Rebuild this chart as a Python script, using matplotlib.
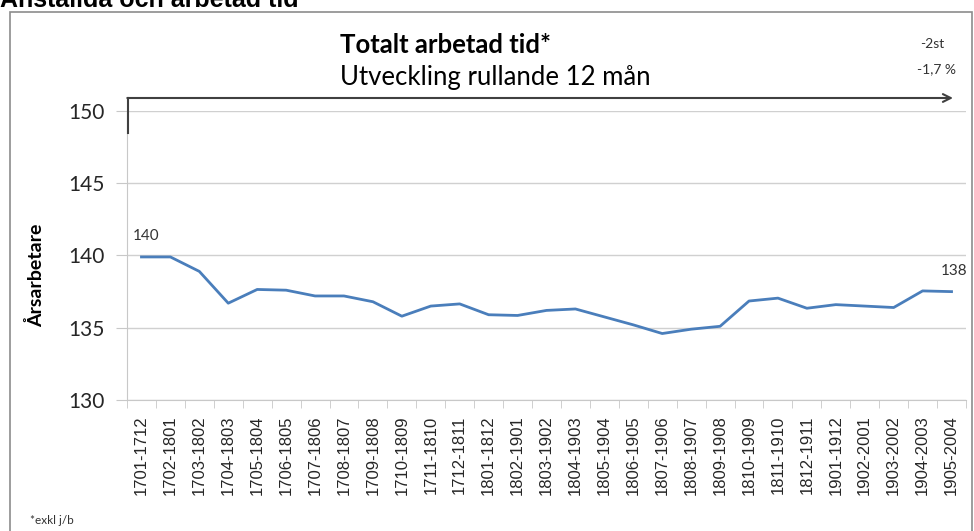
import matplotlib
matplotlib.use("Agg")
import matplotlib.pyplot as plt
from matplotlib.patches import Rectangle

# data
periods = ["1701-1712", "1702-1801", "1703-1802", "1704-1803", "1705-1804",
           "1706-1805", "1707-1806", "1708-1807", "1709-1808", "1710-1809",
           "1711-1810", "1712-1811", "1801-1812", "1802-1901", "1803-1902",
           "1804-1903", "1805-1904", "1806-1905", "1807-1906", "1808-1907",
           "1809-1908", "1810-1909", "1811-1910", "1812-1911", "1901-1912",
           "1902-2001", "1903-2002", "1904-2003", "1905-2004"]
arsarbetare = [139.9, 139.9, 138.9, 136.7, 137.65, 137.6, 137.2, 137.2, 136.8,
               135.8, 136.5, 136.65, 135.9, 135.85, 136.2, 136.3, 135.75, 135.2,
               134.6, 134.9, 135.1, 136.85, 137.05, 136.35, 136.6, 136.5, 136.4,
               137.55, 137.5]
y_ticks = [130, 135, 140, 145, 150]

W, H = 974, 531
fig = plt.figure(figsize=(W / 100, H / 100), dpi=100)

def fx(px):
    return px / W

def fy(py):
    return 1 - py / H

# outer chart frame
fig.patches.append(Rectangle((fx(10), -0.01), fx(962), fy(12) + 0.01,
                             transform=fig.transFigure, fill=False,
                             edgecolor="#8c8c8c", lw=1.2))

# heading is cut off at the top edge, as in the source
fig.text(0.0, fy(7), "Anställda och arbetad tid", fontsize=18, fontweight="bold",
         family="Liberation Sans", va="baseline", ha="left")

ax = fig.add_axes([fx(127), fy(400), fx(966 - 127), fy(111) - fy(400)])
x = list(range(len(periods)))
ax.plot(x, arsarbetare, color="#4a7ebb", lw=2)

ax.set_xlim(-0.5, len(periods) - 0.5)
ax.set_ylim(130, 150)
ax.set_yticks(y_ticks)
ax.set_yticklabels([str(v) for v in y_ticks], family="Lato", fontsize=15,
                   color="#262626")
ax.grid(axis="y", color="#d0d0d0", lw=1)
ax.set_axisbelow(True)

ax.set_xticks(x)
ax.set_xticklabels(periods, rotation=90, family="Liberation Sans", fontsize=12,
                   color="#262626")
ax.set_xticks([i - 0.5 for i in range(len(periods) + 1)], minor=True)
ax.tick_params(axis="x", which="major", length=0, pad=11)
ax.tick_params(axis="x", which="minor", length=6, color="#c8c8c8", direction="out")
ax.tick_params(axis="y", length=8, color="#c8c8c8", direction="out", pad=8)

for s in ["top", "right"]:
    ax.spines[s].set_visible(False)
for s in ["left", "bottom"]:
    ax.spines[s].set_color("#c8c8c8")

ax.set_ylabel("Årsarbetare", family="Lato", fontweight="bold", fontsize=14)
ax.yaxis.set_label_coords(-0.098, 0.43)

# value labels at the ends
ax.annotate(f"{arsarbetare[0]:.0f}", (x[0], arsarbetare[0]), xytext=(-6, 10),
            textcoords="offset points", family="Lato", fontsize=11, color="#333333",
            ha="left", va="bottom")
ax.annotate(f"{arsarbetare[-1]:.0f}", (x[-1], arsarbetare[-1]), xytext=(2, 10),
            textcoords="offset points", family="Lato", fontsize=11, color="#333333",
            ha="center", va="bottom")

# titles
fig.text(fx(340), fy(45), "Totalt arbetad tid*", family="Lato", fontweight="bold",
         fontsize=18.5, va="center", ha="left")
fig.text(fx(340), fy(78), "Utveckling rullande 12 mån", family="Lato",
         fontsize=18.5, va="center", ha="left")
fig.text(fx(920), fy(44), "-2st", family="Lato", fontsize=10, va="center",
         ha="left", color="#333333")
fig.text(fx(917), fy(69), "-1,7 %", family="Lato", fontsize=10, va="center",
         ha="left", color="#333333")

# trend arrow
fig.add_artist(plt.Line2D([fx(128), fx(128)], [fy(133), fy(98)],
                          transform=fig.transFigure, color="#404040", lw=1.5))
ax.annotate("", xy=(fx(953), fy(98)), xytext=(fx(127.3), fy(98)),
            xycoords="figure fraction", textcoords="figure fraction",
            arrowprops=dict(arrowstyle="->", color="#404040", lw=1.5,
                            mutation_scale=14, shrinkA=0, shrinkB=0))

fig.text(fx(30), fy(521), "*exkl j/b", family="Lato", fontsize=8.5,
         va="center", ha="left", color="#333333")

fig.savefig("out.png", dpi=100)
